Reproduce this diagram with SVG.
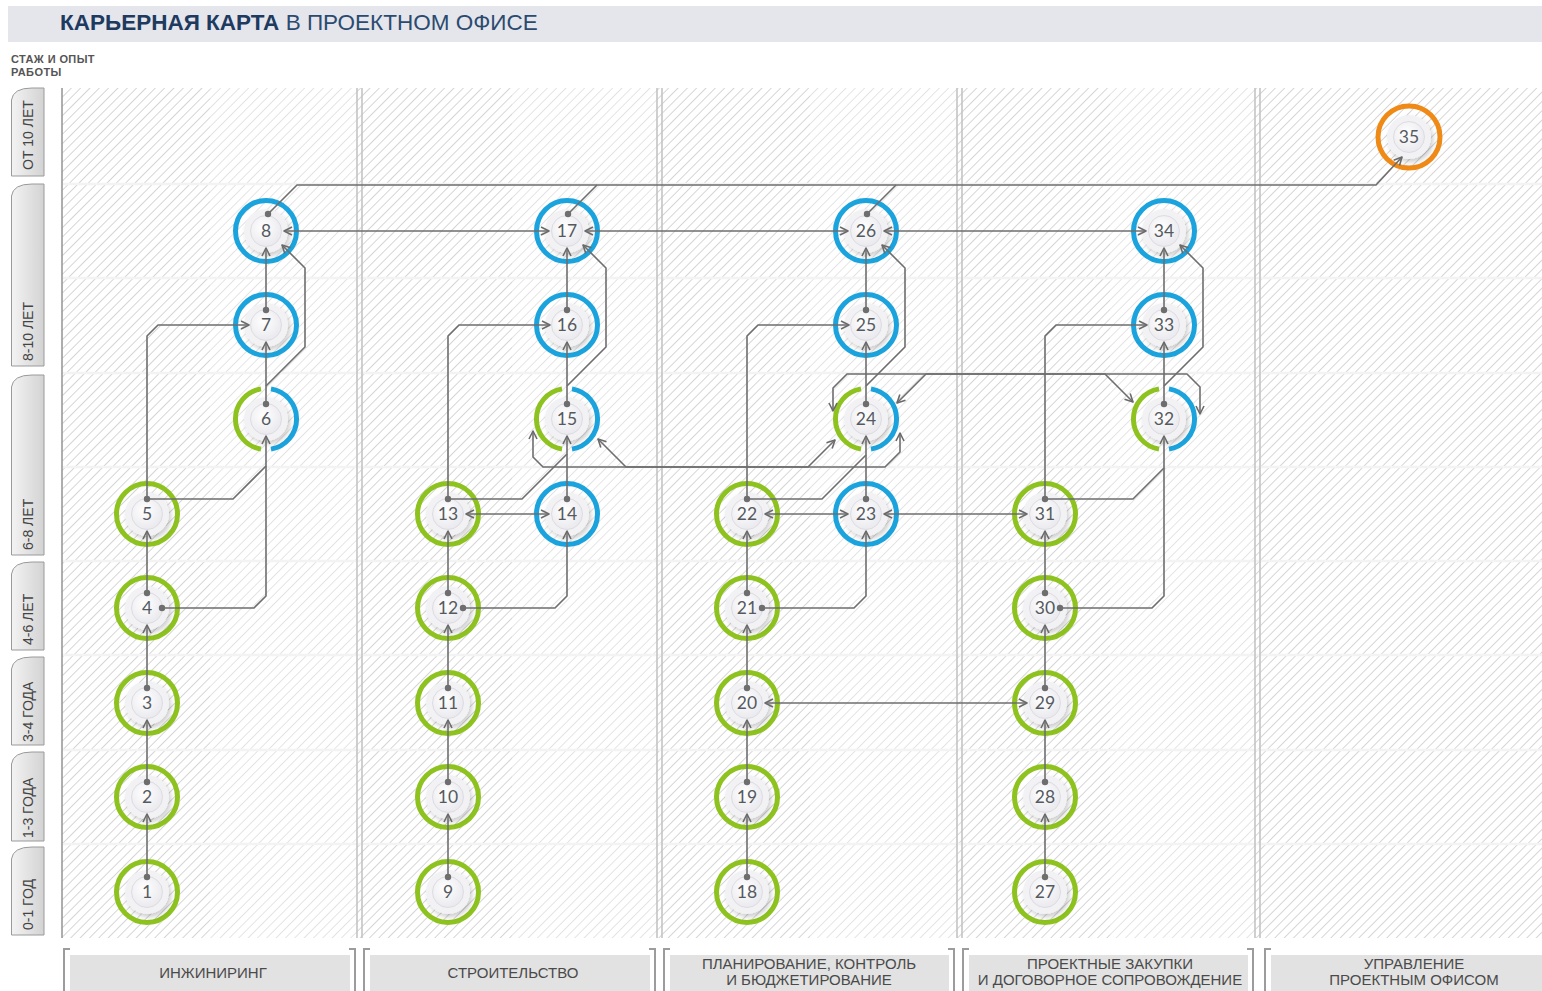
<svg xmlns="http://www.w3.org/2000/svg" width="1542" height="991" viewBox="0 0 1542 991">
<defs>
<pattern id="hatch" patternUnits="userSpaceOnUse" width="6.6" height="6.6" patternTransform="rotate(45)">
<rect width="6.6" height="6.6" fill="#ffffff"/>
<line x1="0" y1="0" x2="0" y2="6.6" stroke="#c9c9c9" stroke-width="1.5"/>
</pattern>
<linearGradient id="tabg" x1="0" y1="0" x2="1" y2="0">
<stop offset="0" stop-color="#f3f3f3"/>
<stop offset="1" stop-color="#d3d3d3"/>
</linearGradient>
<radialGradient id="kg" cx="0.42" cy="0.38" r="0.65">
<stop offset="0" stop-color="#ffffff"/>
<stop offset="1" stop-color="#e9e9ee"/>
</radialGradient>
<filter id="ds" x="-50%" y="-50%" width="200%" height="200%">
<feDropShadow dx="2" dy="3" stdDeviation="2.5" flood-color="#000" flood-opacity="0.2"/>
</filter>
<marker id="ar" viewBox="0 0 10 10" refX="9" refY="5" markerWidth="10" markerHeight="10" markerUnits="userSpaceOnUse" orient="auto-start-reverse">
<path d="M1,1 L9,5 L1,9" fill="none" stroke="#6b6b6b" stroke-width="1.6" stroke-linejoin="round"/>
</marker>
<style>
.rg{fill:none;stroke:#8dc21f;stroke-width:5}
.rb{fill:none;stroke:#1ba3dd;stroke-width:5}
.ro{fill:none;stroke:#f08a17;stroke-width:5}
.ag{fill:none;stroke:#8dc21f;stroke-width:5}
.ab{fill:none;stroke:#1ba3dd;stroke-width:5}
.h{fill:#f2f2f5;filter:url(#ds)}
.k{fill:url(#kg);stroke:#dcdce2;stroke-width:1}
.t{font-family:Lato,"Open Sans",sans-serif;font-size:17.5px;fill:#555a60;text-anchor:middle}
.c{fill:none;stroke:#6e6e6e;stroke-width:1.6;stroke-linejoin:round}
.e{marker-end:url(#ar)}
.b{marker-start:url(#ar);marker-end:url(#ar)}
.d{fill:#6e6e6e}
.tab{fill:url(#tabg);stroke:#9a9a9a;stroke-width:1}
.tabt{font-family:"Liberation Sans",Arial,sans-serif;font-size:14px;fill:#444}
.sep{stroke:#c4c4c4;stroke-width:1.6}
.row{stroke:#f3f3f3;stroke-width:2.5}
.lbl{fill:#e2e2e2}
.br{fill:none;stroke:#9c9c9c;stroke-width:2}
.lt{font-family:"Liberation Sans",Arial,sans-serif;font-size:15px;fill:#4a4a4a;text-anchor:middle}
</style>
</defs>
<rect width="1542" height="991" fill="#ffffff"/>
<!-- title -->
<rect x="8" y="6" width="1534" height="36" fill="#e4e6ec"/>
<text x="60" y="30" font-family="'Liberation Sans',Arial,sans-serif" font-size="22.5" fill="#1e3a5f"><tspan font-weight="bold">КАРЬЕРНАЯ КАРТА</tspan><tspan fill="#2c4a70"> В ПРОЕКТНОМ ОФИСЕ</tspan></text>
<text x="11" y="63" font-family="'Liberation Sans',Arial,sans-serif" font-size="11" font-weight="bold" letter-spacing="0.4" fill="#555">СТАЖ И ОПЫТ</text>
<text x="11" y="76" font-family="'Liberation Sans',Arial,sans-serif" font-size="11" font-weight="bold" letter-spacing="0.4" fill="#555">РАБОТЫ</text>
<!-- grid -->
<rect x="62" y="88" width="1480" height="850" fill="url(#hatch)"/>
<g fill="#ffffff" opacity="0.35">
<rect x="210" y="88" width="147" height="850"/>
<rect x="512" y="88" width="145" height="850"/>
<rect x="810" y="88" width="147" height="850"/>
<rect x="1110" y="88" width="145" height="850"/>
</g>
<g class="row">
<line x1="62" y1="184" x2="1542" y2="184"/>
<line x1="62" y1="278" x2="1542" y2="278"/>
<line x1="62" y1="373" x2="1542" y2="373"/>
<line x1="62" y1="467" x2="1542" y2="467"/>
<line x1="62" y1="561" x2="1542" y2="561"/>
<line x1="62" y1="655" x2="1542" y2="655"/>
<line x1="62" y1="750" x2="1542" y2="750"/>
<line x1="62" y1="844" x2="1542" y2="844"/>
</g>
<line x1="62" y1="88" x2="62" y2="938" stroke="#9a9a9a" stroke-width="1.6"/>
<g class="sep">
<line x1="357" y1="88" x2="357" y2="938"/><line x1="362" y1="88" x2="362" y2="938"/>
<line x1="657" y1="88" x2="657" y2="938"/><line x1="662" y1="88" x2="662" y2="938"/>
<line x1="957" y1="88" x2="957" y2="938"/><line x1="962" y1="88" x2="962" y2="938"/>
<line x1="1255" y1="88" x2="1255" y2="938"/><line x1="1260" y1="88" x2="1260" y2="938"/>
</g>
<!-- axis tabs -->
<g id="axis">
<path class="tab" d="M11.5,100 Q13,88 32,88 H44 V176 H11.5 Z"/>
<text class="tabt" transform="translate(33,170) rotate(-90)">ОТ 10 ЛЕТ</text>
<path class="tab" d="M11.5,196 Q13,184 32,184 H44 V366 H11.5 Z"/>
<text class="tabt" transform="translate(33,361) rotate(-90)">8-10 ЛЕТ</text>
<path class="tab" d="M11.5,387 Q13,375 32,375 H44 V555 H11.5 Z"/>
<text class="tabt" transform="translate(33,550) rotate(-90)">6-8 ЛЕТ</text>
<path class="tab" d="M11.5,574 Q13,562 32,562 H44 V650 H11.5 Z"/>
<text class="tabt" transform="translate(33,645) rotate(-90)">4-6 ЛЕТ</text>
<path class="tab" d="M11.5,669 Q13,657 32,657 H44 V745 H11.5 Z"/>
<text class="tabt" transform="translate(33,742) rotate(-90)">3-4 ГОДА</text>
<path class="tab" d="M11.5,764 Q13,752 32,752 H44 V841 H11.5 Z"/>
<text class="tabt" transform="translate(33,838) rotate(-90)">1-3 ГОДА</text>
<path class="tab" d="M11.5,859 Q13,847 32,847 H44 V935 H11.5 Z"/>
<text class="tabt" transform="translate(33,930) rotate(-90)">0-1 ГОД</text>
</g>
<!-- bottom labels -->
<g id="col-labels">
<rect class="lbl" x="70" y="955" width="280" height="36"/>
<path class="br" d="M70,949 H64 V991 M349,949 H355 V991"/>
<text class="lt" x="213" y="978">ИНЖИНИРИНГ</text>
<rect class="lbl" x="370" y="955" width="280" height="36"/>
<path class="br" d="M370,949 H364 V991 M649,949 H655 V991"/>
<text class="lt" x="513" y="978">СТРОИТЕЛЬСТВО</text>
<rect class="lbl" x="670" y="955" width="279" height="36"/>
<path class="br" d="M670,949 H664 V991 M948,949 H954 V991"/>
<text class="lt" x="809" y="969">ПЛАНИРОВАНИЕ, КОНТРОЛЬ</text>
<text class="lt" x="809" y="985">И БЮДЖЕТИРОВАНИЕ</text>
<rect class="lbl" x="969" y="955" width="279" height="36"/>
<path class="br" d="M969,949 H963 V991 M1247,949 H1253 V991"/>
<text class="lt" x="1110" y="969">ПРОЕКТНЫЕ ЗАКУПКИ</text>
<text class="lt" x="1110" y="985">И ДОГОВОРНОЕ СОПРОВОЖДЕНИЕ</text>
<rect class="lbl" x="1271" y="955" width="271" height="36"/>
<path class="br" d="M1271,949 H1265 V991"/>
<text class="lt" x="1414" y="969">УПРАВЛЕНИЕ</text>
<text class="lt" x="1414" y="985">ПРОЕКТНЫМ ОФИСОМ</text>
</g>
<!-- nodes -->
<g id="n1"><circle class="rg" cx="147" cy="892" r="30.5"/><circle class="h" cx="147" cy="892" r="22"/><circle class="k" cx="147" cy="892" r="15.5"/><text class="t" x="147" y="898">1</text></g>
<g id="n2"><circle class="rg" cx="147" cy="797" r="30.5"/><circle class="h" cx="147" cy="797" r="22"/><circle class="k" cx="147" cy="797" r="15.5"/><text class="t" x="147" y="803">2</text></g>
<g id="n3"><circle class="rg" cx="147" cy="703" r="30.5"/><circle class="h" cx="147" cy="703" r="22"/><circle class="k" cx="147" cy="703" r="15.5"/><text class="t" x="147" y="709">3</text></g>
<g id="n4"><circle class="rg" cx="147" cy="608" r="30.5"/><circle class="h" cx="147" cy="608" r="22"/><circle class="k" cx="147" cy="608" r="15.5"/><text class="t" x="147" y="614">4</text></g>
<g id="n5"><circle class="rg" cx="147" cy="514" r="30.5"/><circle class="h" cx="147" cy="514" r="22"/><circle class="k" cx="147" cy="514" r="15.5"/><text class="t" x="147" y="520">5</text></g>
<g id="n6"><path class="ag" d="M261,388.9 A30.5,30.5 0 0 0 261,449.1"/><path class="ab" d="M271,388.9 A30.5,30.5 0 0 1 271,449.1"/><circle class="h" cx="266" cy="419" r="22"/><circle class="k" cx="266" cy="419" r="15.5"/><text class="t" x="266" y="425">6</text></g>
<g id="n7"><circle class="rb" cx="266" cy="325" r="30.5"/><circle class="h" cx="266" cy="325" r="22"/><circle class="k" cx="266" cy="325" r="15.5"/><text class="t" x="266" y="331">7</text></g>
<g id="n8"><circle class="rb" cx="266" cy="231" r="30.5"/><circle class="h" cx="266" cy="231" r="22"/><circle class="k" cx="266" cy="231" r="15.5"/><text class="t" x="266" y="237">8</text></g>
<g id="n9"><circle class="rg" cx="448" cy="892" r="30.5"/><circle class="h" cx="448" cy="892" r="22"/><circle class="k" cx="448" cy="892" r="15.5"/><text class="t" x="448" y="898">9</text></g>
<g id="n10"><circle class="rg" cx="448" cy="797" r="30.5"/><circle class="h" cx="448" cy="797" r="22"/><circle class="k" cx="448" cy="797" r="15.5"/><text class="t" x="448" y="803">10</text></g>
<g id="n11"><circle class="rg" cx="448" cy="703" r="30.5"/><circle class="h" cx="448" cy="703" r="22"/><circle class="k" cx="448" cy="703" r="15.5"/><text class="t" x="448" y="709">11</text></g>
<g id="n12"><circle class="rg" cx="448" cy="608" r="30.5"/><circle class="h" cx="448" cy="608" r="22"/><circle class="k" cx="448" cy="608" r="15.5"/><text class="t" x="448" y="614">12</text></g>
<g id="n13"><circle class="rg" cx="448" cy="514" r="30.5"/><circle class="h" cx="448" cy="514" r="22"/><circle class="k" cx="448" cy="514" r="15.5"/><text class="t" x="448" y="520">13</text></g>
<g id="n14"><circle class="rb" cx="567" cy="514" r="30.5"/><circle class="h" cx="567" cy="514" r="22"/><circle class="k" cx="567" cy="514" r="15.5"/><text class="t" x="567" y="520">14</text></g>
<g id="n15"><path class="ag" d="M562,388.9 A30.5,30.5 0 0 0 562,449.1"/><path class="ab" d="M572,388.9 A30.5,30.5 0 0 1 572,449.1"/><circle class="h" cx="567" cy="419" r="22"/><circle class="k" cx="567" cy="419" r="15.5"/><text class="t" x="567" y="425">15</text></g>
<g id="n16"><circle class="rb" cx="567" cy="325" r="30.5"/><circle class="h" cx="567" cy="325" r="22"/><circle class="k" cx="567" cy="325" r="15.5"/><text class="t" x="567" y="331">16</text></g>
<g id="n17"><circle class="rb" cx="567" cy="231" r="30.5"/><circle class="h" cx="567" cy="231" r="22"/><circle class="k" cx="567" cy="231" r="15.5"/><text class="t" x="567" y="237">17</text></g>
<g id="n18"><circle class="rg" cx="747" cy="892" r="30.5"/><circle class="h" cx="747" cy="892" r="22"/><circle class="k" cx="747" cy="892" r="15.5"/><text class="t" x="747" y="898">18</text></g>
<g id="n19"><circle class="rg" cx="747" cy="797" r="30.5"/><circle class="h" cx="747" cy="797" r="22"/><circle class="k" cx="747" cy="797" r="15.5"/><text class="t" x="747" y="803">19</text></g>
<g id="n20"><circle class="rg" cx="747" cy="703" r="30.5"/><circle class="h" cx="747" cy="703" r="22"/><circle class="k" cx="747" cy="703" r="15.5"/><text class="t" x="747" y="709">20</text></g>
<g id="n21"><circle class="rg" cx="747" cy="608" r="30.5"/><circle class="h" cx="747" cy="608" r="22"/><circle class="k" cx="747" cy="608" r="15.5"/><text class="t" x="747" y="614">21</text></g>
<g id="n22"><circle class="rg" cx="747" cy="514" r="30.5"/><circle class="h" cx="747" cy="514" r="22"/><circle class="k" cx="747" cy="514" r="15.5"/><text class="t" x="747" y="520">22</text></g>
<g id="n23"><circle class="rb" cx="866" cy="514" r="30.5"/><circle class="h" cx="866" cy="514" r="22"/><circle class="k" cx="866" cy="514" r="15.5"/><text class="t" x="866" y="520">23</text></g>
<g id="n24"><path class="ag" d="M861,388.9 A30.5,30.5 0 0 0 861,449.1"/><path class="ab" d="M871,388.9 A30.5,30.5 0 0 1 871,449.1"/><circle class="h" cx="866" cy="419" r="22"/><circle class="k" cx="866" cy="419" r="15.5"/><text class="t" x="866" y="425">24</text></g>
<g id="n25"><circle class="rb" cx="866" cy="325" r="30.5"/><circle class="h" cx="866" cy="325" r="22"/><circle class="k" cx="866" cy="325" r="15.5"/><text class="t" x="866" y="331">25</text></g>
<g id="n26"><circle class="rb" cx="866" cy="231" r="30.5"/><circle class="h" cx="866" cy="231" r="22"/><circle class="k" cx="866" cy="231" r="15.5"/><text class="t" x="866" y="237">26</text></g>
<g id="n27"><circle class="rg" cx="1045" cy="892" r="30.5"/><circle class="h" cx="1045" cy="892" r="22"/><circle class="k" cx="1045" cy="892" r="15.5"/><text class="t" x="1045" y="898">27</text></g>
<g id="n28"><circle class="rg" cx="1045" cy="797" r="30.5"/><circle class="h" cx="1045" cy="797" r="22"/><circle class="k" cx="1045" cy="797" r="15.5"/><text class="t" x="1045" y="803">28</text></g>
<g id="n29"><circle class="rg" cx="1045" cy="703" r="30.5"/><circle class="h" cx="1045" cy="703" r="22"/><circle class="k" cx="1045" cy="703" r="15.5"/><text class="t" x="1045" y="709">29</text></g>
<g id="n30"><circle class="rg" cx="1045" cy="608" r="30.5"/><circle class="h" cx="1045" cy="608" r="22"/><circle class="k" cx="1045" cy="608" r="15.5"/><text class="t" x="1045" y="614">30</text></g>
<g id="n31"><circle class="rg" cx="1045" cy="514" r="30.5"/><circle class="h" cx="1045" cy="514" r="22"/><circle class="k" cx="1045" cy="514" r="15.5"/><text class="t" x="1045" y="520">31</text></g>
<g id="n32"><path class="ag" d="M1159,388.9 A30.5,30.5 0 0 0 1159,449.1"/><path class="ab" d="M1169,388.9 A30.5,30.5 0 0 1 1169,449.1"/><circle class="h" cx="1164" cy="419" r="22"/><circle class="k" cx="1164" cy="419" r="15.5"/><text class="t" x="1164" y="425">32</text></g>
<g id="n33"><circle class="rb" cx="1164" cy="325" r="30.5"/><circle class="h" cx="1164" cy="325" r="22"/><circle class="k" cx="1164" cy="325" r="15.5"/><text class="t" x="1164" y="331">33</text></g>
<g id="n34"><circle class="rb" cx="1164" cy="231" r="30.5"/><circle class="h" cx="1164" cy="231" r="22"/><circle class="k" cx="1164" cy="231" r="15.5"/><text class="t" x="1164" y="237">34</text></g>
<g id="n35"><circle class="ro" cx="1409" cy="137" r="31"/><circle class="h" cx="1409" cy="137" r="22"/><circle class="k" cx="1409" cy="137" r="15.5"/><text class="t" x="1409" y="143">35</text></g>
<!-- connectors -->
<g id="connectors">
<path class="c e" d="M147,877 V814"/><path class="c e" d="M147,782 V720"/><path class="c e" d="M147,688 V625"/><path class="c e" d="M147,593 V531"/>
<path class="c e" d="M266,404 V342"/><path class="c e" d="M266,310 V248"/>
<path class="c e" d="M448,877 V814"/><path class="c e" d="M448,782 V720"/><path class="c e" d="M448,688 V625"/><path class="c e" d="M448,593 V531"/>
<path class="c e" d="M567,499 V436"/><path class="c e" d="M567,404 V342"/><path class="c e" d="M567,310 V248"/>
<path class="c e" d="M747,877 V814"/><path class="c e" d="M747,782 V720"/><path class="c e" d="M747,688 V625"/><path class="c e" d="M747,593 V531"/>
<path class="c e" d="M866,499 V436"/><path class="c e" d="M866,404 V342"/><path class="c e" d="M866,310 V248"/>
<path class="c e" d="M1045,877 V814"/><path class="c e" d="M1045,782 V720"/><path class="c e" d="M1045,688 V625"/><path class="c e" d="M1045,593 V531"/>
<path class="c e" d="M1164,404 V342"/><path class="c e" d="M1164,310 V248"/>
<path class="c e" d="M147,499 V336 L158,325 H249"/>
<path class="c e" d="M448,499 V336 L459,325 H550"/>
<path class="c e" d="M747,499 V336 L758,325 H849"/>
<path class="c e" d="M1045,499 V336 L1056,325 H1147"/>
<path class="c e" d="M162,608 H254 L266,596 V436"/>
<path class="c e" d="M463,608 H555 L567,596 V531"/>
<path class="c e" d="M762,608 H854 L866,596 V531"/>
<path class="c e" d="M1060,608 H1152 L1164,596 V436"/>
<path class="c" d="M147,499 H233 L266,466"/>
<path class="c" d="M448,499 H522 L567,454"/>
<path class="c" d="M747,499 H822 L866,455"/>
<path class="c" d="M1045,499 H1133 L1164,468"/>
<path class="c b" d="M284,231 H549"/>
<path class="c b" d="M585,231 H848"/>
<path class="c b" d="M884,231 H1146"/>
<path class="c b" d="M466,514 H549"/>
<path class="c b" d="M765,514 H848"/>
<path class="c b" d="M884,514 H1027"/>
<path class="c b" d="M765,703 H1027"/>
<path class="c e" d="M266,386 L305,347 V268 L282,245"/>
<path class="c e" d="M567,386 L606,347 V268 L583,245"/>
<path class="c e" d="M866,386 L905,347 V268 L882,245"/>
<path class="c e" d="M1164,386 L1203,347 V268 L1180,245"/>
<path class="c e" d="M268,214 L297,185 H1376 L1402,157"/>
<path class="c" d="M568,214 L597,185"/>
<path class="c" d="M867,214 L896,185"/>
<path class="c b" d="M533,431 V457 L543,467 H885 L900,452 V433"/>
<path class="c b" d="M598,439 L626,467 H808 L835,440"/>
<path class="c b" d="M833,411 V388 L847,374 H1187 L1200,387 V414"/>
<path class="c b" d="M897,403 L926,374 H1105 L1133,402"/>
<circle class="d" cx="147" cy="877" r="3.2"/><circle class="d" cx="147" cy="782" r="3.2"/><circle class="d" cx="147" cy="688" r="3.2"/><circle class="d" cx="147" cy="593" r="3.2"/><circle class="d" cx="147" cy="499" r="3.2"/>
<circle class="d" cx="266" cy="404" r="3.2"/><circle class="d" cx="266" cy="310" r="3.2"/><circle class="d" cx="268" cy="214" r="3.2"/>
<circle class="d" cx="448" cy="877" r="3.2"/><circle class="d" cx="448" cy="782" r="3.2"/><circle class="d" cx="448" cy="688" r="3.2"/><circle class="d" cx="448" cy="593" r="3.2"/><circle class="d" cx="448" cy="499" r="3.2"/>
<circle class="d" cx="567" cy="499" r="3.2"/><circle class="d" cx="567" cy="404" r="3.2"/><circle class="d" cx="567" cy="310" r="3.2"/><circle class="d" cx="568" cy="214" r="3.2"/>
<circle class="d" cx="747" cy="877" r="3.2"/><circle class="d" cx="747" cy="782" r="3.2"/><circle class="d" cx="747" cy="688" r="3.2"/><circle class="d" cx="747" cy="593" r="3.2"/><circle class="d" cx="747" cy="499" r="3.2"/>
<circle class="d" cx="866" cy="499" r="3.2"/><circle class="d" cx="866" cy="404" r="3.2"/><circle class="d" cx="866" cy="310" r="3.2"/><circle class="d" cx="867" cy="214" r="3.2"/>
<circle class="d" cx="1045" cy="877" r="3.2"/><circle class="d" cx="1045" cy="782" r="3.2"/><circle class="d" cx="1045" cy="688" r="3.2"/><circle class="d" cx="1045" cy="593" r="3.2"/><circle class="d" cx="1045" cy="499" r="3.2"/>
<circle class="d" cx="1164" cy="404" r="3.2"/><circle class="d" cx="1164" cy="310" r="3.2"/>
<circle class="d" cx="162" cy="608" r="3.2"/><circle class="d" cx="463" cy="608" r="3.2"/><circle class="d" cx="762" cy="608" r="3.2"/><circle class="d" cx="1060" cy="608" r="3.2"/>
</g>
</svg>
